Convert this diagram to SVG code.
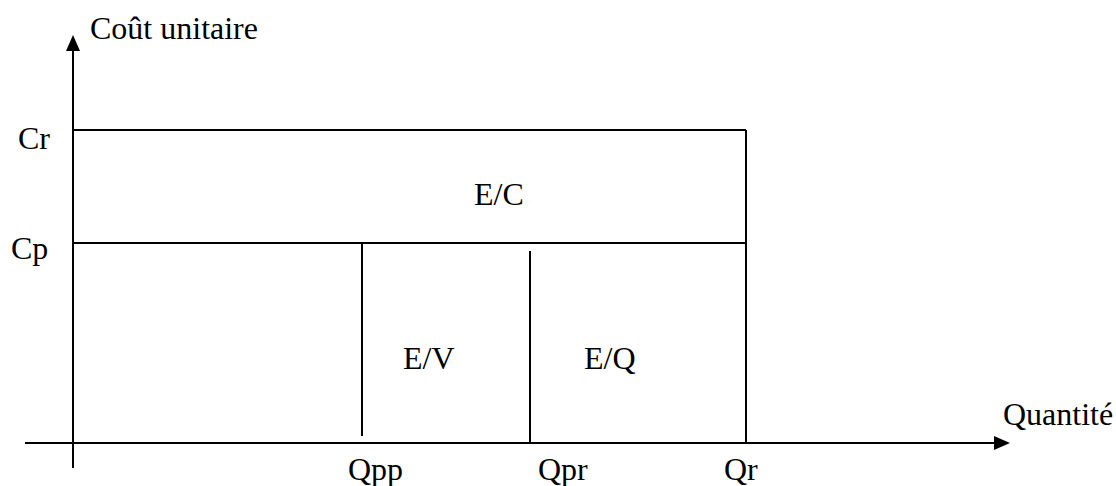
<svg xmlns="http://www.w3.org/2000/svg" width="1116" height="486" viewBox="0 0 1116 486">
<style>
.t{font-family:"Liberation Serif","Times New Roman",serif;font-size:32px;fill:#000}
.l{stroke:#000;stroke-width:2;fill:none}
</style>
<rect width="1116" height="486" fill="#fff"/>
<g id="connectors">
<line class="l" x1="73" y1="468" x2="73" y2="50"/>
<polygon points="73,35 66,51 80,51" fill="#000"/>
<line class="l" x1="25" y1="443" x2="995" y2="443"/>
<polygon points="1010,443 994,436 994,450" fill="#000"/>
<line class="l" x1="73" y1="130" x2="746" y2="130"/>
<line class="l" x1="73" y1="243" x2="746" y2="243"/>
<line class="l" x1="746" y1="130" x2="746" y2="443"/>
<line class="l" x1="362" y1="243" x2="362" y2="436"/>
<line class="l" x1="530" y1="251" x2="530" y2="443"/>
</g>
<g id="axis-y-label"><text class="t" x="90" y="39">Coût unitaire</text></g>
<g id="axis-x-label"><text class="t" x="1003" y="425">Quantité</text></g>
<g id="cr"><text class="t" x="18" y="149">Cr</text></g>
<g id="cp"><text class="t" x="11" y="259">Cp</text></g>
<g id="ec"><text class="t" x="474" y="205">E/C</text></g>
<g id="ev"><text class="t" x="403" y="369">E/V</text></g>
<g id="eq"><text class="t" x="584" y="369">E/Q</text></g>
<g id="qpp"><text class="t" x="348" y="480">Qpp</text></g>
<g id="qpr"><text class="t" x="538" y="480">Qpr</text></g>
<g id="qr"><text class="t" x="724" y="480">Qr</text></g>
</svg>
